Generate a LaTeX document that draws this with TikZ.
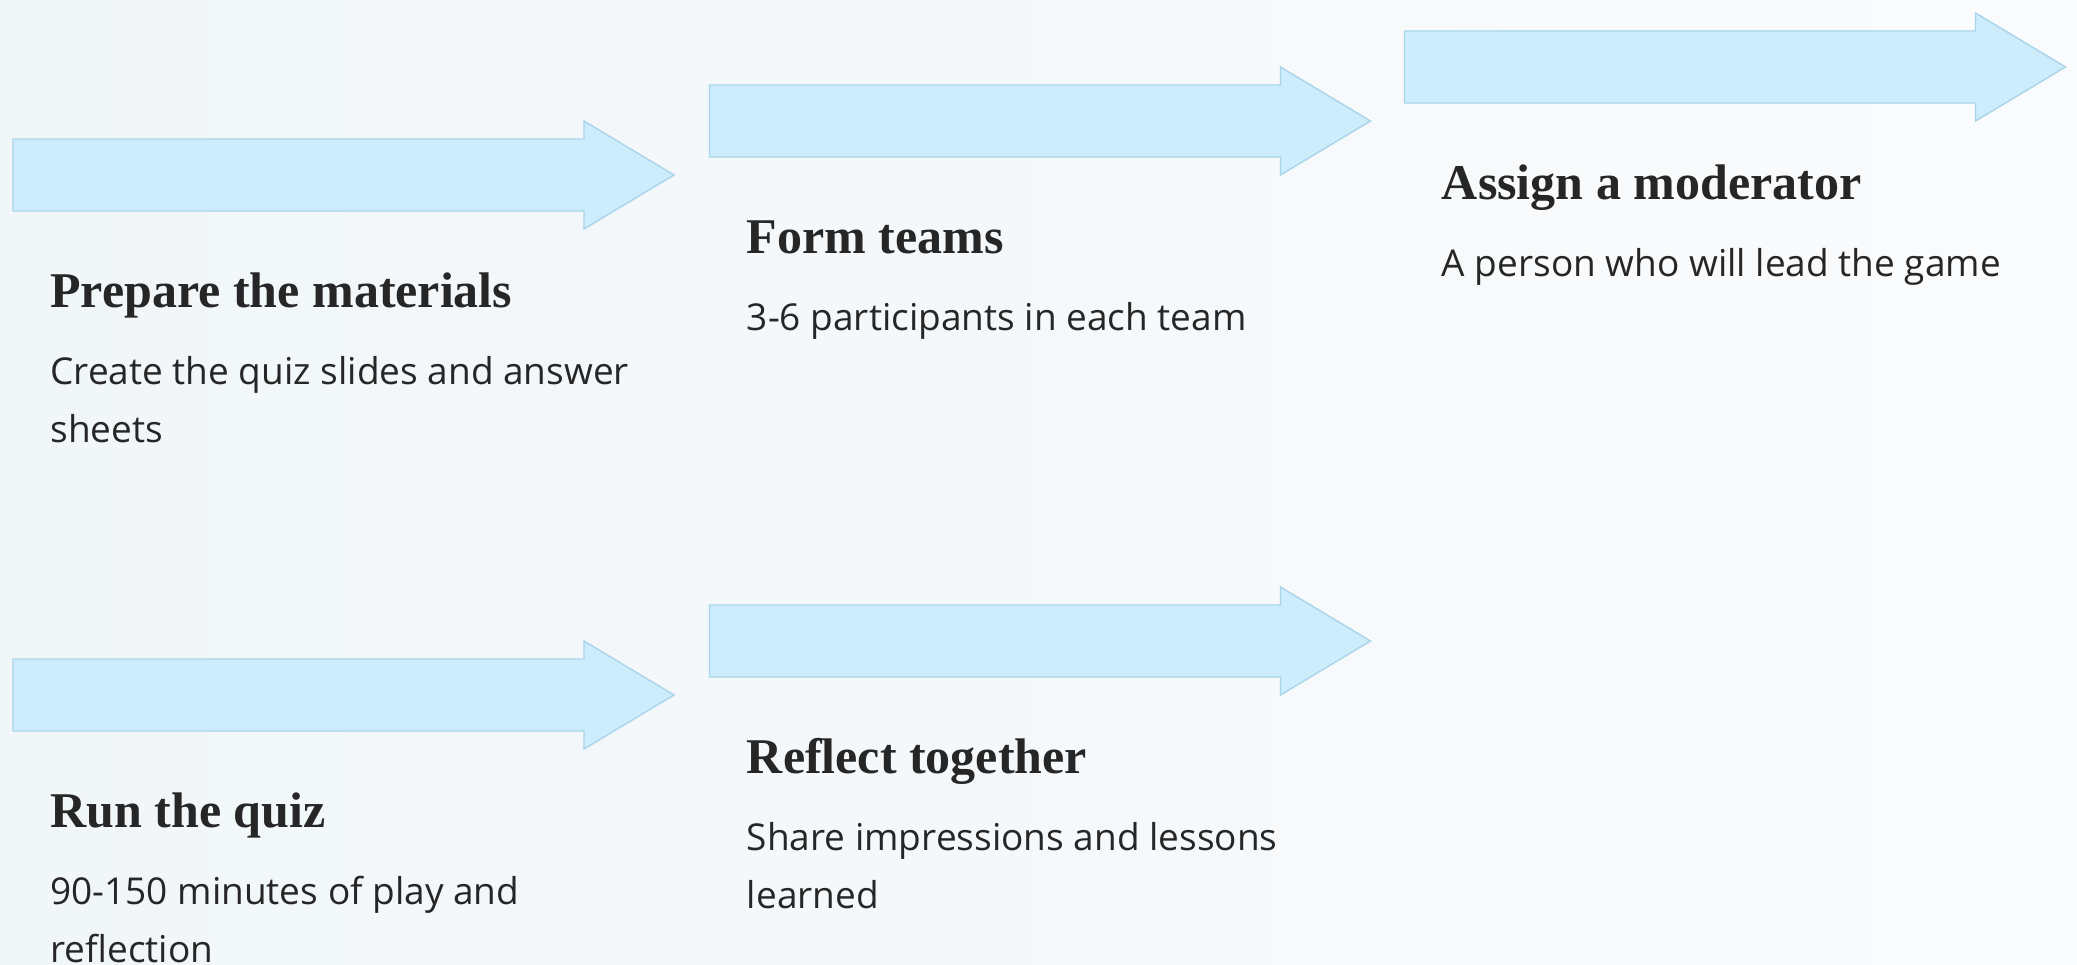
\documentclass[tikz,border=0pt]{standalone}
\usepackage{fontspec}
\setmainfont{Liberation Serif}
\setsansfont{Open Sans}
\usetikzlibrary{calc}
\definecolor{ArrowFill}{HTML}{CDEDFD}
\definecolor{ArrowEdge}{HTML}{A9D5EB}
\definecolor{InkDark}{HTML}{262626}
\definecolor{BgLeft}{HTML}{F1F6F9}
\definecolor{BgRight}{HTML}{FAFBFC}

\begin{document}
\begin{tikzpicture}[x=0.5pt, y=-0.5pt, every node/.style={text=InkDark},
    steparrow/.pic={
      \draw[draw=ArrowEdge, fill=ArrowFill, line width=0.7pt]
        (0,-36) -- (571,-36) -- (571,-54) -- (661,0) -- (571,54) -- (571,36) -- (0,36) -- cycle;
      \coordinate (-tail) at (0,0);
      \coordinate (-tip) at (661,0);
    }]
    \tikzstyle{steptitle}=[anchor=base west, inner sep=0pt,
                           font=\rmfamily\bfseries\fontsize{25}{30}\selectfont]
    \tikzstyle{stepnote}=[anchor=base west, inner sep=0pt, align=left,
                          font=\sffamily\fontsize{18.5}{29}\selectfont]

    \useasboundingbox (0,0) rectangle (2077,964);
    \shade[left color=BgLeft, right color=BgRight] (0,0) rectangle (2077,964);

    % top row
    \pic (a1) at (13,175) {steparrow};
    \pic (a2) at (709.5,121) {steparrow};
    \pic (a3) at (1404.5,67) {steparrow};
    % bottom row
    \pic (a4) at (13,695) {steparrow};
    \pic (a5) at (709.5,641) {steparrow};

    \node[steptitle] (t1) at ($(a1-tail)+(37,132)$) {Prepare the materials};
    \node[stepnote] (d1) at ($(t1.base west)+(0,135)$) {Create the quiz slides and answer\\sheets};

    \node[steptitle] (t2) at ($(a2-tail)+(37,132)$) {Form teams};
    \node[stepnote] (d2) at ($(t2.base west)+(0,77)$) {3-6 participants in each team};

    \node[steptitle] (t3) at ($(a3-tail)+(37,132)$) {Assign a moderator};
    \node[stepnote] (d3) at ($(t3.base west)+(0,77)$) {A person who will lead the game};

    \node[steptitle] (t4) at ($(a4-tail)+(37,132)$) {Run the quiz};
    \node[stepnote] (d4) at ($(t4.base west)+(0,135)$) {90-150 minutes of play and\\reflection};

    \node[steptitle] (t5) at ($(a5-tail)+(37,132)$) {Reflect together};
    \node[stepnote] (d5) at ($(t5.base west)+(0,135)$) {Share impressions and lessons\\learned};

  \end{tikzpicture}
\end{document}
